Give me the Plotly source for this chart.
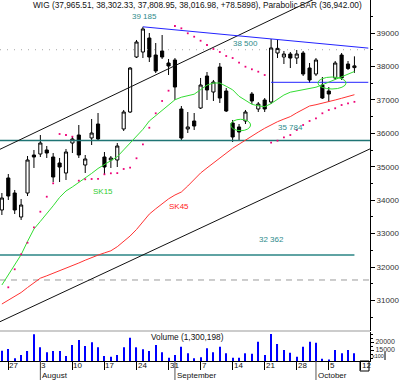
import plotly.graph_objects as go

# ---------------- data ----------------
dates = ["2009-07-24", "2009-07-27", "2009-07-28", "2009-07-29", "2009-07-30", "2009-07-31",
         "2009-08-03", "2009-08-04", "2009-08-05", "2009-08-06", "2009-08-07",
         "2009-08-10", "2009-08-11", "2009-08-12", "2009-08-13", "2009-08-14",
         "2009-08-17", "2009-08-18", "2009-08-19", "2009-08-20", "2009-08-21",
         "2009-08-24", "2009-08-25", "2009-08-26", "2009-08-27", "2009-08-28",
         "2009-08-31", "2009-09-01", "2009-09-02", "2009-09-03", "2009-09-04",
         "2009-09-07", "2009-09-08", "2009-09-09", "2009-09-10", "2009-09-11",
         "2009-09-14", "2009-09-15", "2009-09-16", "2009-09-17", "2009-09-18",
         "2009-09-21", "2009-09-22", "2009-09-23", "2009-09-24", "2009-09-25",
         "2009-09-28", "2009-09-29", "2009-09-30", "2009-10-01", "2009-10-02",
         "2009-10-05", "2009-10-06", "2009-10-07", "2009-10-08", "2009-10-09"]

opens = [33708, 34665, 34216, 33498, 34216, 35352, 35382, 35502, 35292, 35113, 34814,
         35711, 35950, 35053, 35861, 36279, 35292, 35203, 35203, 36130, 36638,
         38282, 38432, 38850, 38342, 38462, 38103, 38193, 36728, 36130, 36369,
         36757, 37714, 37236, 37983, 37266, 36309, 36190, 36369, 37176, 36728,
         36997, 36937, 38402, 38282, 38372, 38252, 38402, 37953, 37774, 37445,
         37266, 37655, 38342, 38073, 37965.51]
highs = [34216, 34784, 34306, 34037, 35322, 35502, 35950, 35621, 35412, 35263, 35532,
         35920, 36249, 35352, 36429, 36608, 35442, 35322, 35711, 36698, 37983,
         38791, 39185, 39000, 38701, 38940, 38223, 38252, 36817, 36638, 36608,
         37655, 37834, 37595, 38103, 37356, 36399, 36279, 36698, 37236, 36937,
         37056, 38821, 38791, 38462, 38432, 38492, 38462, 38103, 38252, 37684,
         37385, 38163, 38402, 38163, 38302.33]
lows = [33558, 34007, 33588, 33409, 34126, 34964, 35292, 35263, 34545, 34545, 34605,
        35412, 35263, 34814, 35651, 35801, 34754, 34964, 34993, 36070, 36608,
        38252, 38252, 38133, 37804, 38223, 37744, 36997, 35784, 36010, 36100,
        36728, 36997, 36967, 36907, 36638, 35741, 35801, 36279, 36877, 36638,
        36638, 36877, 38252, 38073, 37953, 38073, 37714, 37505, 37714, 37027,
        36937, 37595, 37595, 37894, 37808.95]
closes = [34066, 34126, 33708, 33857, 35203, 35292, 35711, 35412, 34694, 34993, 35442,
          35831, 35352, 35233, 36010, 35831, 34993, 35262, 35621, 36638, 37953,
          38731, 39120, 38282, 37864, 38282, 38013, 37385, 35860, 36190, 36219,
          37445, 37296, 37535, 37056, 36668, 35890, 36040, 36638, 36967, 36877,
          36728, 38552, 38540, 38372, 38252, 38372, 37774, 37595, 38193, 37056,
          37176, 38103, 37655, 37938, 38016.98]

sk15 = [31465, 31764, 32063, 32371, 32769, 33140, 33367, 33594, 33833, 34084, 34276,
        34398, 34524, 34656, 34802, 34949, 35071, 35185, 35301, 35505, 35708,
        35911, 36118, 36369, 36530, 36677, 36829, 37003, 37080, 37116, 37170,
        37305, 37442, 37505, 37505, 37406, 37302, 37107, 36985, 36868, 36823,
        36796, 36889, 37024, 37146, 37230, 37272, 37311, 37347, 37379, 37451,
        37529, 37619, 37702, 37777, 37849]
sk45 = [30897, 31005, 31124, 31241, 31390, 31519, 31669, 31740, 31812, 31884, 31956,
        32039, 32123, 32207, 32290, 32359, 32425, 32488, 32610, 32772, 32930,
        33125, 33355, 33585, 33744, 33896, 34040, 34156, 34246, 34425, 34623,
        34814, 34966, 35116, 35265, 35415, 35553, 35675, 35801, 35923, 36037,
        36151, 36261, 36348, 36426, 36500, 36614, 36728, 36817, 36856, 36898,
        36937, 36997, 37048, 37101, 37155]
sar = [None, 31396, 31935, 32383, 32730, 33190, 33657, 34105, 34506, 35980, 35950,
       35900, 34584, 34626, 34635, 34640, 34775, 34805, 34810, 34934, 34972,
       35254, 35672, 36168, 36599, 36967, 37275, 39209, 39140, 38991, 38889,
       38769, 38641, 38522, 38432, 38312, 38252, 38112, 37992, 37915, 37843,
       37744, 35720, 35780, 35881, 35950, 36100, 36249, 36369, 36450, 36599,
       36698, 36749, 36847, 36898, 36942]
volume = [14562, 15625, 9812, 11875, 14375, 24812, 16687, 13562, 14375, 14375, 11250,
          18125, 21250, 17500, 19812, 16687, 11250, 10812, 11875, 16687, 22687,
          16687, 15437, 14375, 18125, 13562, 10187, 11875, 17062, 12937, 9812,
          10500, 16062, 13562, 17062, 12937, 10187, 10187, 12937, 12687, 20187,
          11875, 25000, 18750, 15000, 13312, 10812, 17062, 20187, 19562, 9500,
          9000, 15000, 12937, 15000, 13002]

price_ticks = [31000, 32000, 33000, 34000, 35000, 36000, 37000, 38000, 39000]
price_minor = [30500, 31500, 32500, 33500, 34500, 35500, 36500, 37500, 38500, 39500]
vol_ticks = [15000, 20000]
week_ticks = ["2009-07-27", "2009-08-03", "2009-08-10", "2009-08-17", "2009-08-24", "2009-08-31",
              "2009-09-07", "2009-09-14", "2009-09-21", "2009-09-28", "2009-10-05", "2009-10-12"]
week_labels = ["27", "3", "10", "17", "24", "31", "7", "14", "21", "28", "5", "12"]
month_starts = ["2009-08-03", "2009-09-01", "2009-10-01"]
month_labels = ["August", "September", "October"]

x_left = "2009-07-23 16:55"
x_right = "2009-10-13 10:19"

high_level = 39185
mid_level = 38500
low_level = 35784
old_level = 32362
dash_level = 31615
neck_level = 37526
res_line_x = ["2009-08-25", "2009-10-13 04:00"]
res_line_y = [39185, 38548]
up_channel_x = [x_left, "2009-10-02"]
up_channel_y = [35523, 40130]
lo_channel_x = [x_left, x_right]
lo_channel_y = [30368, 35535]

title_text = "WIG (37,965.51, 38,302.33, 37,808.95, 38,016.98, +78.5898), Parabolic SAR (36,942.00)"

# ---------------- figure ----------------
FONT = "Liberation Sans"
W, H = 400, 380
fig = go.Figure()

def line_trace(xs, ys, color, width=1, dash=None, xa="x", ya="y"):
    fig.add_trace(go.Scatter(x=xs, y=ys, mode="lines", xaxis=xa, yaxis=ya,
                             line=dict(color=color, width=width, dash=dash),
                             hoverinfo="skip"))

# horizontal levels & trend lines
line_trace([x_left, x_right], [mid_level, mid_level], "#a8a8a8", 1, "1px,6px")
line_trace([x_left, x_right], [dash_level, dash_level], "#9a9a9a", 1, "6px,5px")
line_trace([x_left, x_right], [low_level, low_level], "#1f7474", 1.5)
line_trace([x_left, dates[-1]], [old_level, old_level], "#2a8585", 1.5)
line_trace(up_channel_x, up_channel_y, "#111111", 1)
line_trace(lo_channel_x, lo_channel_y, "#111111", 1)
line_trace(res_line_x, res_line_y, "#2323ff", 1)
line_trace([dates[42], res_line_x[1]], [neck_level, neck_level], "#2323ff", 1)

# moving averages
line_trace(dates, sk45, "#ff3333", 1)
line_trace(dates, sk15, "#33dd33", 1)

# candles
fig.add_trace(go.Candlestick(
    x=dates, open=opens, high=highs, low=lows, close=closes,
    increasing=dict(line=dict(color="black", width=1), fillcolor="white"),
    decreasing=dict(line=dict(color="black", width=1), fillcolor="black"),
    whiskerwidth=0, hoverinfo="skip", xaxis="x", yaxis="y"))

# parabolic SAR
fig.add_trace(go.Scatter(x=dates, y=sar, mode="markers", xaxis="x", yaxis="y",
                         marker=dict(symbol="square", size=1.8, color="#ee0077",
                                     line=dict(width=0)),
                         hoverinfo="skip"))

# volume
fig.add_trace(go.Bar(x=dates, y=volume, xaxis="x2", yaxis="y2",
                     marker=dict(color="#0000ff", line=dict(width=0)),
                     width=86400000 * 0.17, hoverinfo="skip"))

dom_x = [0, 370 / W]
main_dom = [(H - 331) / H, 1]
vol_dom = [(H - 361) / H, (H - 332) / H]

fig.update_layout(
    width=W, height=H, margin=dict(l=0, r=0, t=0, b=0),
    paper_bgcolor="white", plot_bgcolor="white", showlegend=False,
    font=dict(family=FONT, size=8, color="#222"),
    xaxis=dict(domain=dom_x, type="date", range=[x_left, x_right],
               rangebreaks=[dict(bounds=["sat", "mon"])], anchor="y",
               showticklabels=False, showgrid=False, zeroline=False, showline=False,
               ticks="", rangeslider=dict(visible=False)),
    xaxis2=dict(domain=dom_x, type="date", matches="x", anchor="y2",
                rangebreaks=[dict(bounds=["sat", "mon"])],
                showline=True, linecolor="black", linewidth=1,
                ticks="outside", ticklen=8, tickcolor="black", tickwidth=1,
                tickvals=week_ticks, showticklabels=False, showgrid=False, zeroline=False),
    yaxis=dict(domain=main_dom, anchor="x", side="right", range=[30089.8, 39986.7],
               tickvals=price_ticks, ticktext=[str(v) for v in price_ticks],
               ticks="outside", ticklen=4, tickcolor="black", tickwidth=1,
               showline=True, linecolor="black", linewidth=1,
               showgrid=False, zeroline=False,
               tickfont=dict(family=FONT, size=8, color="#333"),
               minor=dict(tickvals=price_minor, ticks="outside", ticklen=2,
                          tickcolor="black", showgrid=False)),
    yaxis2=dict(domain=vol_dom, anchor="x2", side="right", range=[8125, 26250],
                tickvals=vol_ticks, ticktext=[str(v) for v in vol_ticks],
                ticks="outside", ticklen=3, tickcolor="black", tickwidth=1,
                showline=True, linecolor="black", linewidth=1,
                showgrid=False, zeroline=False,
                tickfont=dict(family=FONT, size=7, color="#333"),
                minor=dict(dtick=2500, ticks="outside", ticklen=2, tickcolor="black")),
)

shapes = []
# panel separator
shapes.append(dict(type="line", xref="paper", yref="paper", x0=0, x1=370 / W,
                   y0=(H - 331) / H, y1=(H - 331) / H, line=dict(color="#999", width=1)))
# month separators
for d in month_starts:
    shapes.append(dict(type="line", xref="x", yref="paper", x0=d, x1=d,
                       y0=0, y1=(H - 361) / H, line=dict(color="#555", width=1)))
# highlight ellipses
shapes.append(dict(type="circle", xref="x", yref="y",
                   x0="2009-09-11 16:48", x1="2009-09-16 19:12", y0=36079, y1=36420,
                   line=dict(color="#33dd33", width=1)))
shapes.append(dict(type="circle", xref="x", yref="y",
                   x0="2009-10-01 07:12", x1="2009-10-07 16:48", y0=37326, y1=37684,
                   line=dict(color="#33dd33", width=1)))
# x100 bracket and last-date box
shapes.append(dict(type="line", xref="paper", yref="paper", x0=385 / W, x1=385 / W,
                   y0=(H - 360) / H, y1=(H - 352) / H, line=dict(color="black", width=1)))
shapes.append(dict(type="rect", xref="paper", yref="paper", x0=360 / W, x1=369 / W,
                   y0=(H - 371) / H, y1=(H - 361) / H, line=dict(color="black", width=1)))
fig.update_layout(shapes=shapes)

ann = []
def txt(x, y, s, color="#222", size=8, xanchor="center", xref="paper", yref="paper", xshift=0):
    ann.append(dict(x=x, y=y, xref=xref, yref=yref, text=s, showarrow=False,
                    xanchor=xanchor, yanchor="middle", xshift=xshift,
                    font=dict(family=FONT, size=size, color=color), borderpad=0))

txt(32 / W, (H - 5.5) / H, title_text, "#111", 8.3, "left")
txt(150 / W, (H - 337) / H, "Volume (1,300,198)", "#111", 8.3, "left")
txt(144.7 / W, (H - 16) / H, "39 185", "#2e8b8b", 8)
txt(245 / W, (H - 43.4) / H, "38 500", "#2e8b8b", 8)
txt(290.5 / W, (H - 127.5) / H, "35 784", "#2e8b8b", 8)
txt(271 / W, (H - 239.7) / H, "32 362", "#2e8b8b", 8)
txt(103.5 / W, (H - 191) / H, "SK15", "#33cc33", 8)
txt(178.5 / W, (H - 206) / H, "SK45", "#ff2222", 8)
txt(371 / W, (H - 356) / H, "x100", "#222", 5.5, "left")
for d, s in zip(week_ticks, week_labels):
    txt(d, (H - 365.5) / H, s, "#111", 8, "left", xref="x", xshift=0)
for d, s in zip(month_starts, month_labels):
    txt(d, (H - 375) / H, s, "#111", 8, "left", xref="x", xshift=1)
fig.update_layout(annotations=ann)

fig.write_html("out.html")
